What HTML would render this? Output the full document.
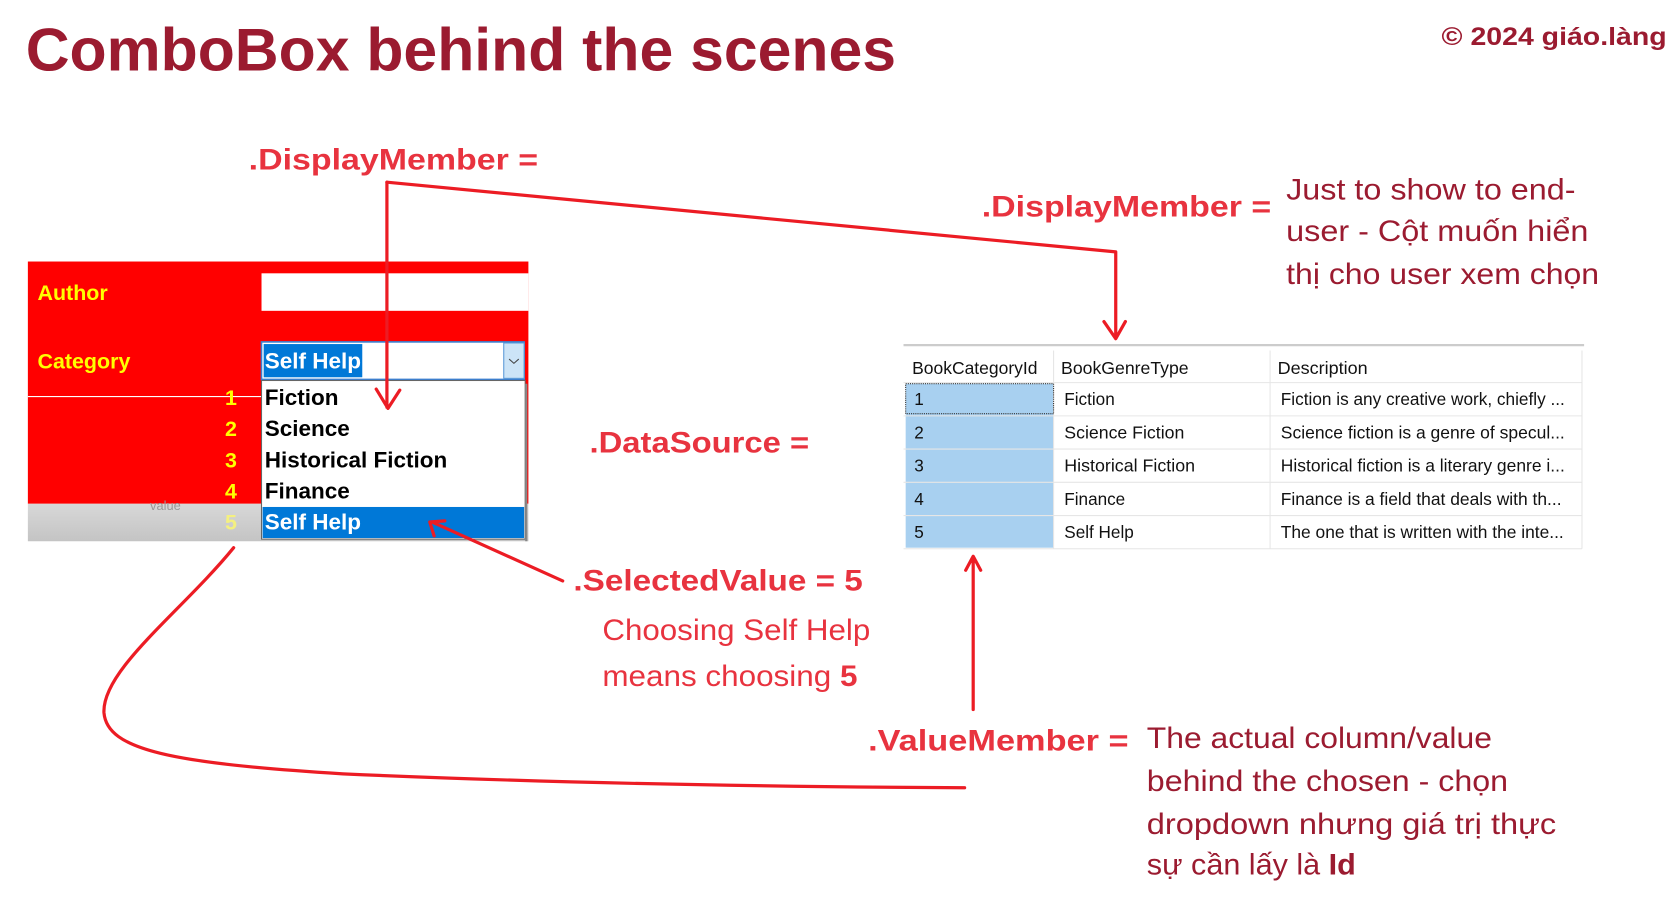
<!DOCTYPE html>
<html><head><meta charset="utf-8"><style>html,body{margin:0;padding:0;background:#fff;width:1672px;height:903px;overflow:hidden}svg{display:block}</style></head><body>
<svg width="1672" height="903" viewBox="0 0 1560 842.5" xmlns="http://www.w3.org/2000/svg" font-family="Liberation Sans, DejaVu Sans, sans-serif">
<defs><linearGradient id="g" x1="0" y1="0" x2="0" y2="1"><stop offset="0" stop-color="#d8d8d8"/><stop offset="1" stop-color="#c4c4c4"/></linearGradient></defs>
<text x="24" y="66" font-size="56" font-weight="bold" fill="#9b1b30" textLength="812" lengthAdjust="spacingAndGlyphs">ComboBox behind the scenes</text>
<text x="1345" y="42" font-size="23" font-weight="bold" fill="#9b1b30" textLength="210" lengthAdjust="spacingAndGlyphs">© 2024 giáo.làng</text>

<!-- form -->
<rect x="26" y="244" width="467" height="226" fill="#ff0000"/>
<rect x="26" y="470" width="467" height="35" fill="url(#g)"/>
<text x="140" y="476" font-size="12" fill="#999">value</text>
<rect x="244" y="255" width="249" height="35" fill="#fff"/>
<line x1="26" y1="370" x2="244" y2="370" stroke="#fff" stroke-width="1"/>
<text x="35" y="280" font-size="20" font-weight="bold" fill="#ffff00">Author</text>
<text x="35" y="344" font-size="20" font-weight="bold" fill="#ffff00">Category</text>
<g font-size="20" font-weight="bold" fill="#ffff00" text-anchor="end">
<text x="221" y="378">1</text><text x="221" y="407">2</text><text x="221" y="436">3</text><text x="221" y="465">4</text><text x="221" y="494" fill="#f4f080">5</text></g>
<rect x="244" y="319" width="245" height="35" fill="#fff" stroke="#3b7fd0" stroke-width="1.5"/>
<rect x="246" y="321" width="92" height="31" fill="#0078d7"/>
<text x="247" y="344" font-size="21" font-weight="bold" fill="#fff">Self Help</text>
<rect x="470" y="320" width="19" height="33" fill="#cce4f7" stroke="#5a9ad8" stroke-width="1"/>
<path d="M475,335 L479.5,339 L484,335" fill="none" stroke="#444" stroke-width="1"/>
<rect x="244" y="355" width="246" height="148" fill="#fff" stroke="#666" stroke-width="1"/>
<rect x="245" y="473" width="244" height="29" fill="#0078d7"/>
<line x1="491" y1="358" x2="491" y2="505" stroke="#888" stroke-width="2"/>
<g font-size="21" font-weight="bold" fill="#000">
<text x="247" y="378">Fiction</text><text x="247" y="407">Science</text><text x="247" y="436">Historical Fiction</text><text x="247" y="465">Finance</text><text x="247" y="494" fill="#fff">Self Help</text></g>

<!-- table -->
<line x1="843" y1="322" x2="1478" y2="322" stroke="#ccc" stroke-width="2"/>
<rect x="843" y="327" width="635" height="185" fill="#fff"/>
<rect x="845" y="358" width="138" height="153" fill="#a8d0f0"/>
<g stroke="#e6e6e6" stroke-width="1">
<line x1="843" y1="357" x2="1476" y2="357"/><line x1="843" y1="388" x2="1476" y2="388"/><line x1="843" y1="419" x2="1476" y2="419"/><line x1="843" y1="450" x2="1476" y2="450"/><line x1="843" y1="481" x2="1476" y2="481"/><line x1="843" y1="512" x2="1476" y2="512"/>
<line x1="983" y1="327" x2="983" y2="512"/><line x1="1185" y1="327" x2="1185" y2="512"/><line x1="1476" y1="327" x2="1476" y2="512"/></g>
<rect x="845" y="358" width="138" height="28" fill="none" stroke="#333" stroke-width="1" stroke-dasharray="1,1"/>
<g font-size="16" fill="#111">
<text x="851" y="349" textLength="117" lengthAdjust="spacingAndGlyphs">BookCategoryId</text>
<text x="990" y="349" textLength="119" lengthAdjust="spacingAndGlyphs">BookGenreType</text>
<text x="1192" y="349" textLength="84" lengthAdjust="spacingAndGlyphs">Description</text>
<text x="853" y="378">1</text><text x="853" y="409">2</text><text x="853" y="440">3</text><text x="853" y="471">4</text><text x="853" y="502">5</text>
<text x="993" y="378">Fiction</text><text x="993" y="409" textLength="112" lengthAdjust="spacingAndGlyphs">Science Fiction</text><text x="993" y="440" textLength="122" lengthAdjust="spacingAndGlyphs">Historical Fiction</text><text x="993" y="471">Finance</text><text x="993" y="502">Self Help</text>
<text x="1195" y="378" textLength="265" lengthAdjust="spacingAndGlyphs">Fiction is any creative work, chiefly ...</text>
<text x="1195" y="409" textLength="265" lengthAdjust="spacingAndGlyphs">Science fiction is a genre of specul...</text>
<text x="1195" y="440" textLength="265" lengthAdjust="spacingAndGlyphs">Historical fiction is a literary genre i...</text>
<text x="1195" y="471" textLength="262" lengthAdjust="spacingAndGlyphs">Finance is a field that deals with th...</text>
<text x="1195" y="502" textLength="264" lengthAdjust="spacingAndGlyphs">The one that is written with the inte...</text></g>

<!-- labels -->
<g font-size="28" font-weight="bold" fill="#e8333f">
<text x="232" y="158" textLength="270" lengthAdjust="spacingAndGlyphs">.DisplayMember =</text>
<text x="916" y="202" textLength="270" lengthAdjust="spacingAndGlyphs">.DisplayMember =</text>
<text x="550" y="422" textLength="205" lengthAdjust="spacingAndGlyphs">.DataSource =</text>
<text x="535" y="551" textLength="270" lengthAdjust="spacingAndGlyphs">.SelectedValue = 5</text>
<text x="810" y="700" textLength="243" lengthAdjust="spacingAndGlyphs">.ValueMember =</text></g>
<g font-size="28" fill="#e8333f">
<text x="562" y="597" textLength="250" lengthAdjust="spacingAndGlyphs">Choosing Self Help</text>
<text x="562" y="640" textLength="238" lengthAdjust="spacingAndGlyphs">means choosing <tspan font-weight="bold">5</tspan></text></g>
<g font-size="28" fill="#9b1b30">
<text x="1200" y="186" textLength="270" lengthAdjust="spacingAndGlyphs">Just to show to end-</text>
<text x="1200" y="225" textLength="282" lengthAdjust="spacingAndGlyphs">user - Cột muốn hiển</text>
<text x="1200" y="265" textLength="292" lengthAdjust="spacingAndGlyphs">thị cho user xem chọn</text>
<text x="1070" y="698" textLength="322" lengthAdjust="spacingAndGlyphs">The actual column/value</text>
<text x="1070" y="738" textLength="337" lengthAdjust="spacingAndGlyphs">behind the chosen - chọn</text>
<text x="1070" y="778" textLength="382" lengthAdjust="spacingAndGlyphs">dropdown nhưng giá trị thực</text>
<text x="1070" y="816" textLength="195" lengthAdjust="spacingAndGlyphs">sự cần lấy là <tspan font-weight="bold">Id</tspan></text></g>

<!-- arrows -->
<g fill="none" stroke="#ec1c24" stroke-width="3" stroke-linecap="round" stroke-linejoin="round">
<path d="M361,170 L361,380 M351,363 L362,381 L373,364"/>
<path d="M361,170 L1041,235 L1041,315 M1030,300 L1041,316 L1050,300"/>
<path d="M525,542 L403,487 M405,500 L401,487 L415,486"/>
<path d="M908,662 L908,520 M901,532 L908,519 L915,532"/>
<path d="M218,511 C170,570 95,625 97,665 C100,700 160,712 320,722 C500,730 700,734 900,735"/>
</g>
</svg>
</body></html>
